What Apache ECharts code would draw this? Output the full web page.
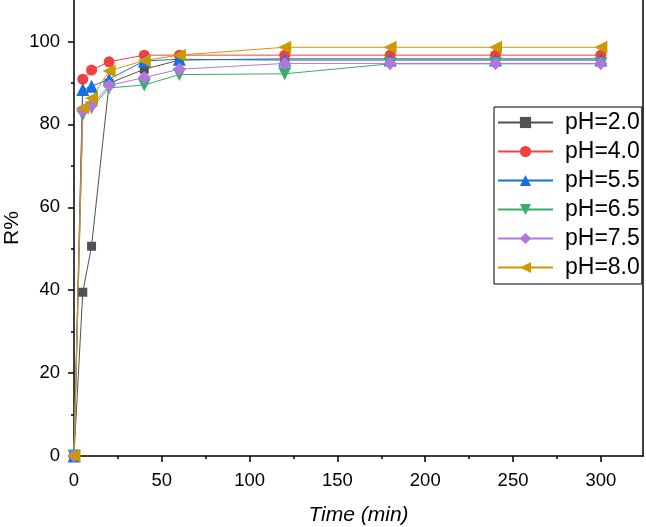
<!DOCTYPE html>
<html>
<head>
<meta charset="utf-8">
<script src="https://cdn.jsdelivr.net/npm/echarts@6/dist/echarts.min.js"></script>
<style>html,body{margin:0;padding:0;background:#fff;}#c{width:646px;height:527px;}</style>
</head>
<body>
<div id="c"></div>
<script>
const times = [0, 5, 10, 20, 40, 60, 120, 180, 240, 300];
const seriesNames = ['pH=2.0', 'pH=4.0', 'pH=5.5', 'pH=6.5', 'pH=7.5', 'pH=8.0'];
const pH20 = [0, 39.5, 50.6, 89.9, 93.3, 95.5, 95.8, 95.8, 95.8, 95.8];
const pH40 = [0, 90.9, 93.1, 95.1, 96.7, 96.7, 96.7, 96.7, 96.7, 96.7];
const pH55 = [0, 88.4, 89.2, 90.9, 95.3, 95.7, 95.5, 95.5, 95.5, 95.5];
const pH65 = [0, 82.4, 84.0, 88.8, 89.5, 92.0, 92.2, 94.6, 94.6, 94.6];
const pH75 = [0, 83.2, 84.6, 89.4, 91.3, 93.3, 94.7, 94.7, 94.7, 94.7];
const pH80 = [0, 84.0, 86.3, 92.9, 95.4, 96.7, 98.6, 98.6, 98.6, 98.6];
const xMajorTicks = [0, 50, 100, 150, 200, 250, 300];
const xMinorTicks = [25, 75, 125, 175, 225, 275];
const yMajorTicks = [0, 20, 40, 60, 80, 100];
const yMinorTicks = [10, 30, 50, 70, 90];

const colors = ['#515151', '#F14040', '#1A6FDF', '#37AD6B', '#B177DE', '#CC9900'];
const symbols = ['rect', 'circle', 'triangle', 'triangle', 'diamond', 'triangle'];
const rotations = [0, 0, 0, 180, 0, 90];
const sizes = [9, 11, 13, 13, 13, 13];
const allData = [pH20, pH40, pH55, pH65, pH75, pH80];

const font = 'Liberation Sans, Arial, sans-serif';
const chart = echarts.init(document.getElementById('c'));

const series = seriesNames.map((name, i) => ({
  name: name,
  type: 'line',
  xAxisIndex: 0,
  yAxisIndex: 0,
  data: times.map((t, j) => [t, allData[i][j]]),
  symbol: symbols[i],
  symbolRotate: rotations[i],
  symbolSize: sizes[i],
  showAllSymbol: true,
  lineStyle: { color: colors[i], width: 1 },
  itemStyle: { color: colors[i] },
  emphasis: { disabled: true },
  animation: false
}));

const axisLineStyle = { color: '#000', width: 1.5 };

chart.setOption({
  animation: false,
  grid: { left: 74, right: 3, top: 0, bottom: 71, outerBoundsMode: 'none', containLabel: false },
  legend: {
    orient: 'vertical',
    left: 494,
    top: 107,
    padding: [4, 2, 5, 3],
    itemWidth: 55,
    itemHeight: 14,
    itemGap: 6,
    borderColor: '#000',
    borderWidth: 1,
    textStyle: { fontFamily: font, fontSize: 23, color: '#000', padding: [0, 0, 0, 7] },
    data: seriesNames
  },
  xAxis: [
    {
      type: 'value', min: 0, max: 324,
      name: 'Time (min)', nameLocation: 'middle', nameGap: 49, nameMoveOverlap: false,
      nameTextStyle: { fontFamily: font, fontSize: 21, fontStyle: 'italic', color: '#000' },
      axisLine: { show: true, onZero: false, lineStyle: axisLineStyle },
      axisTick: { show: true, inside: false, length: 6, lineStyle: axisLineStyle, customValues: xMajorTicks },
      axisLabel: { fontFamily: font, fontSize: 18.5, color: '#000', margin: 15, customValues: xMajorTicks },
      splitLine: { show: false }
    },
    {
      type: 'value', min: 0, max: 324, position: 'bottom',
      axisLine: { show: false },
      axisTick: { show: true, inside: false, length: 3, lineStyle: axisLineStyle, customValues: xMinorTicks },
      axisLabel: { show: false },
      splitLine: { show: false }
    }
  ],
  yAxis: [
    {
      type: 'value', min: 0, max: 110,
      name: 'R%', nameLocation: 'middle', nameGap: 51, nameMoveOverlap: false,
      nameTextStyle: { fontFamily: font, fontSize: 21, color: '#000', verticalAlign: 'bottom', align: 'center' },
      axisLine: { show: true, onZero: false, lineStyle: axisLineStyle },
      axisTick: { show: true, inside: false, length: 6, lineStyle: axisLineStyle, customValues: yMajorTicks },
      axisLabel: { fontFamily: font, fontSize: 18.5, color: '#000', margin: 14, customValues: yMajorTicks },
      splitLine: { show: false }
    },
    {
      type: 'value', min: 0, max: 110, position: 'left',
      axisLine: { show: false },
      axisTick: { show: true, inside: false, length: 3, lineStyle: axisLineStyle, customValues: yMinorTicks },
      axisLabel: { show: false },
      splitLine: { show: false }
    },
    {
      type: 'value', min: 0, max: 110, position: 'right',
      axisLine: { show: true, onZero: false, lineStyle: axisLineStyle },
      axisTick: { show: false }, axisLabel: { show: false }, splitLine: { show: false }
    }
  ],
  series: series
});
</script>
</body>
</html>
